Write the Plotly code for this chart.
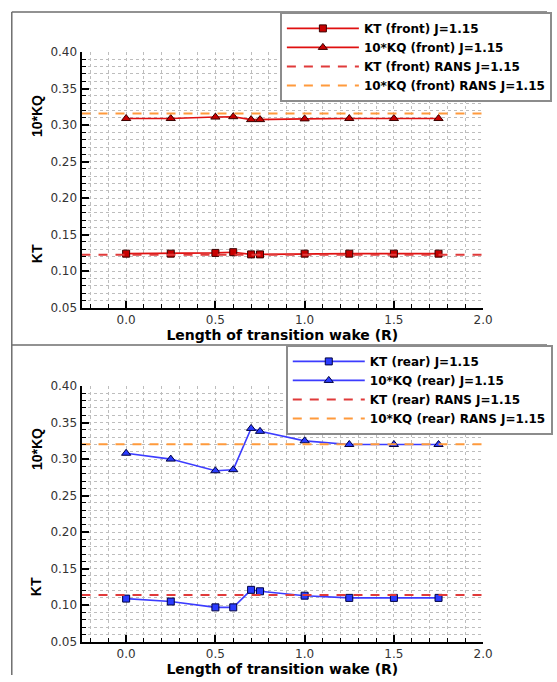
import plotly.graph_objects as go

# ---------------- data ----------------
x_len = [0.0, 0.25, 0.5, 0.6, 0.7, 0.75, 1.0, 1.25, 1.5, 1.75]

kt_front = [0.124, 0.124, 0.125, 0.126, 0.123, 0.123, 0.124, 0.124, 0.124, 0.124]
kq_front = [0.309, 0.309, 0.311, 0.3115, 0.3075, 0.3075, 0.3085, 0.309, 0.309, 0.309]
kt_front_rans = 0.1225
kq_front_rans = 0.316

kt_rear = [0.109, 0.105, 0.097, 0.097, 0.121, 0.119, 0.113, 0.110, 0.110, 0.110]
kq_rear = [0.308, 0.300, 0.284, 0.2855, 0.342, 0.338, 0.325, 0.320, 0.320, 0.320]
kt_rear_rans = 0.114
kq_rear_rans = 0.3205

x_range = [-0.25, 2.0]
y_range = [0.05, 0.40]

W, H = 557, 682
WIDE = "DejaVu Sans, Verdana, sans-serif"
ARIAL = "Liberation Sans, Arial, Helvetica, sans-serif"

RED_LINE = "#e01010"
RED_FILL = "#c80000"
RED_EDGE = "#3a0000"
BLUE_LINE = "#3c3cff"
BLUE_FILL = "#2a3cff"
BLUE_EDGE = "#000040"
RANS_RED = "#e03a3a"
RANS_ORANGE = "#ff9a3c"

fig = go.Figure()


def add_panel(fig, xa, ya, legend, kt, kq, kt_r, kq_r, name, lc, fc, ec):
    fig.add_trace(go.Scatter(
        x=x_len, y=kt, mode="lines+markers", name=f"KT ({name}) J=1.15",
        line=dict(color=lc, width=1.6),
        marker=dict(symbol="square", size=7, color=fc, line=dict(color=ec, width=1)),
        xaxis=xa, yaxis=ya, legend=legend))
    fig.add_trace(go.Scatter(
        x=x_len, y=kq, mode="lines+markers", name=f"10*KQ ({name}) J=1.15",
        line=dict(color=lc, width=1.6),
        marker=dict(symbol="triangle-up", size=8, color=fc, line=dict(color=ec, width=1)),
        xaxis=xa, yaxis=ya, legend=legend))
    fig.add_trace(go.Scatter(
        x=x_range, y=[kt_r, kt_r], mode="lines", name=f"KT ({name}) RANS J=1.15",
        line=dict(color=RANS_RED, width=2, dash="9px,8px"),
        xaxis=xa, yaxis=ya, legend=legend))
    fig.add_trace(go.Scatter(
        x=x_range, y=[kq_r, kq_r], mode="lines", name=f"10*KQ ({name}) RANS J=1.15",
        line=dict(color=RANS_ORANGE, width=2, dash="9px,8px"),
        xaxis=xa, yaxis=ya, legend=legend))


add_panel(fig, "x", "y", "legend", kt_front, kq_front, kt_front_rans, kq_front_rans,
          "front", RED_LINE, RED_FILL, RED_EDGE)
add_panel(fig, "x2", "y2", "legend2", kt_rear, kq_rear, kt_rear_rans, kq_rear_rans,
          "rear", BLUE_LINE, BLUE_FILL, BLUE_EDGE)

x_dom = [83 / W, 492 / W]
top_dom = [(H - 307) / H, (H - 46) / H]
bot_dom = [(H - 648) / H, (H - 387) / H]

grid = dict(showgrid=True, gridcolor="#bdbdbd", griddash="dot", gridwidth=1)


def xaxis(domain, anchor):
    return dict(
        domain=domain, anchor=anchor, range=x_range, tick0=0, dtick=0.5,
        tickformat=".1f", ticks="inside", ticklen=7, tickwidth=2, tickcolor="black",
        showline=True, linecolor="black", linewidth=2, zeroline=False,
        tickfont=dict(family=WIDE, size=12, color="#333333"),
        title=dict(text="Length of transition wake (R)", standoff=0,
                   font=dict(family=WIDE, size=14, color="black", weight="bold")),
        minor=dict(tick0=0, dtick=0.1, ticks="inside", ticklen=4, tickwidth=1,
                   tickcolor="black", **grid),
        **grid)


def yaxis(domain, anchor):
    return dict(
        domain=domain, anchor=anchor, range=y_range, tick0=0, dtick=0.05,
        tickformat=".2f", ticks="inside", ticklen=7, tickwidth=2, tickcolor="black",
        showline=True, linecolor="black", linewidth=2, zeroline=False,
        tickfont=dict(family=WIDE, size=12, color="#333333"),
        minor=dict(tick0=0, dtick=0.01, ticks="inside", ticklen=4, tickwidth=1,
                   tickcolor="black", **grid),
        **grid)


legend_common = dict(
    bgcolor="white", bordercolor="#8c8c8c", borderwidth=2,
    font=dict(family=WIDE, size=12, color="black", weight="bold"),
    xanchor="left", yanchor="top", tracegroupgap=0, itemwidth=72,
)

frame = "#6e6e6e"
shapes = [
    dict(type="line", xref="paper", yref="paper", x0=12 / W, x1=1, y0=1 - 5 / H, y1=1 - 5 / H,
         line=dict(color=frame, width=1.5)),
    dict(type="line", xref="paper", yref="paper", x0=12 / W, x1=1, y0=1 - 345 / H, y1=1 - 345 / H,
         line=dict(color=frame, width=1.5)),
    dict(type="line", xref="paper", yref="paper", x0=12 / W, x1=12 / W, y0=0, y1=1 - 5 / H,
         line=dict(color=frame, width=1.5)),
]

title_font = dict(family=ARIAL, size=14, color="black", weight="bold")
annotations = []
for text, ypx in [("10*KQ", 111), ("KT", 252), ("10*KQ", 451), ("KT", 592)]:
    annotations.append(dict(text=text, xref="paper", yref="paper", x=37 / W, y=1 - ypx / H,
                            textangle=-90, showarrow=False, font=title_font,
                            xanchor="center", yanchor="middle"))

fig.update_layout(
    width=W, height=H, margin=dict(l=0, r=0, t=0, b=0),
    paper_bgcolor="white", plot_bgcolor="white",
    xaxis=xaxis(x_dom, "y"), yaxis=yaxis(top_dom, "x"),
    xaxis2=xaxis(x_dom, "y2"), yaxis2=yaxis(bot_dom, "x2"),
    legend=dict(x=285 / W, y=1 - 5 / H, **legend_common),
    legend2=dict(x=291 / W, y=1 - 345 / H, **legend_common),
    shapes=shapes, annotations=annotations, showlegend=True,
)

fig.write_html("out.html")
